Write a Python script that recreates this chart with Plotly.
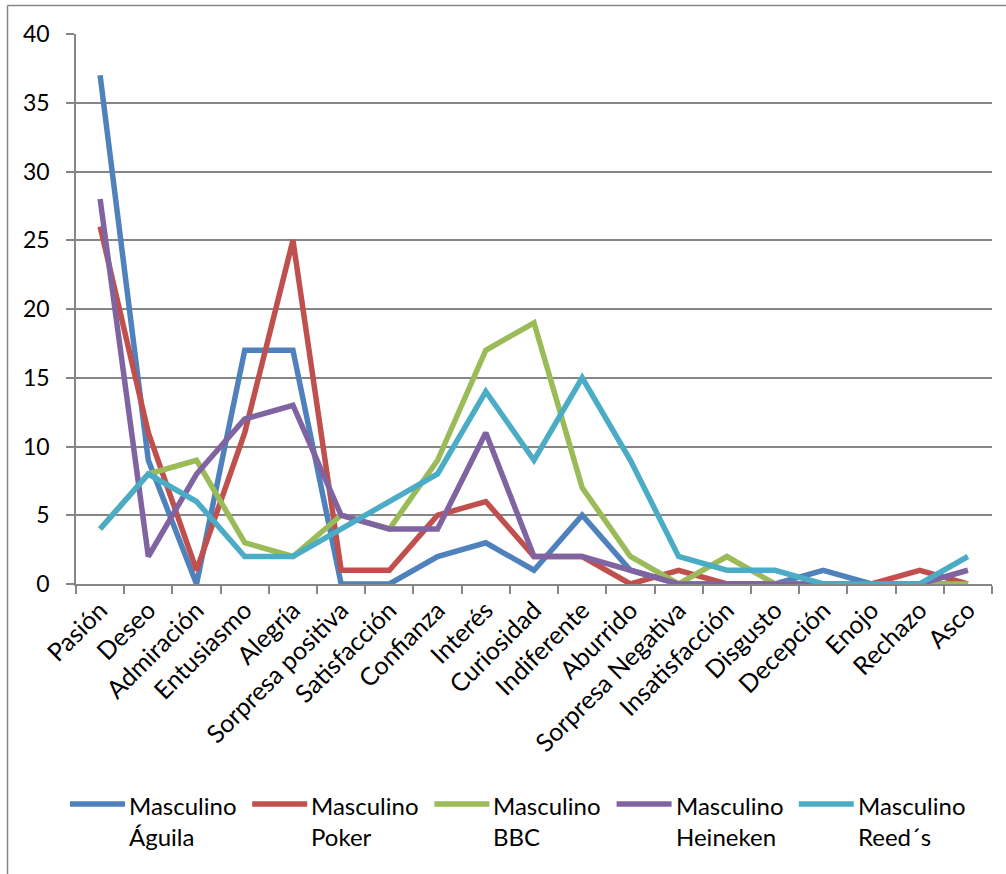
import plotly.graph_objects as go

categories = ["Pasión", "Deseo", "Admiración", "Entusiasmo", "Alegría",
              "Sorpresa positiva", "Satisfacción", "Confianza", "Interés",
              "Curiosidad", "Indiferente", "Aburrido", "Sorpresa Negativa",
              "Insatisfacción", "Disgusto", "Decepción", "Enojo", "Rechazo", "Asco"]

aguila   = [37, 9, 0, 17, 17, 0, 0, 2, 3, 1, 5, 1, 0, 0, 0, 1, 0, 0, 0]
poker    = [26, 11, 1, 11, 25, 1, 1, 5, 6, 2, 2, 0, 1, 0, 0, 0, 0, 1, 0]
bbc      = [4, 8, 9, 3, 2, 5, 4, 9, 17, 19, 7, 2, 0, 2, 0, 0, 0, 0, 0]
heineken = [28, 2, 8, 12, 13, 5, 4, 4, 11, 2, 2, 1, 0, 0, 0, 0, 0, 0, 1]
reeds    = [4, 8, 6, 2, 2, 4, 6, 8, 14, 9, 15, 9, 2, 1, 1, 0, 0, 0, 2]

series_names = ["Masculino<br>Águila", "Masculino<br>Poker", "Masculino<br>BBC",
                "Masculino<br>Heineken", "Masculino<br>Reed´s"]
series_values = [aguila, poker, bbc, heineken, reeds]
colors = ["#4F81BD", "#C0504D", "#9BBB59", "#8064A2", "#4BACC6"]

FONT = "Lato"
OFF = 0  # body margin removed via post_script
W, H = 1006, 874
# target plot area on the page: x 76..992, y 34..584
L = 76 - OFF
T = 34 - OFF
pw, ph = 916, 550
R = W - L - pw
B = H - T - ph

def px(x):
    return (x - OFF - L) / pw

def py(y):
    return (T + ph - (y - OFF)) / ph

fig = go.Figure()
for name, vals, col in zip(series_names, series_values, colors):
    fig.add_trace(go.Scatter(x=categories, y=vals, mode="lines", name=name,
                             line=dict(color=col, width=5.5), showlegend=False))

shapes = []
annotations = []
# chart frame (left and top edges visible in the reference)
shapes.append(dict(type="line", xref="paper", yref="paper",
                   x0=px(7.5), x1=px(7.5), y0=py(880), y1=py(5.5),
                   line=dict(color="#868686", width=1.5), layer="above"))
shapes.append(dict(type="line", xref="paper", yref="paper",
                   x0=px(7.5), x1=px(1012), y0=py(5.5), y1=py(5.5),
                   line=dict(color="#868686", width=1.5), layer="above"))

# custom legend
for i, (name, col) in enumerate(zip(series_names, colors)):
    x0 = 70 + 182.2 * i
    shapes.append(dict(type="line", xref="paper", yref="paper",
                       x0=px(x0), x1=px(x0 + 55), y0=py(804), y1=py(804),
                       line=dict(color=col, width=5.5)))
    annotations.append(dict(xref="paper", yref="paper", x=px(x0 + 57), y=py(821),
                            xanchor="left", yanchor="middle", align="left",
                            text=name, showarrow=False,
                            font=dict(family=FONT, size=24, color="#000000")))

fig.update_layout(
    width=W, height=H,
    margin=dict(l=L, r=R, t=T, b=B),
    paper_bgcolor="white", plot_bgcolor="white",
    font=dict(family=FONT, size=23, color="#000000"),
    shapes=shapes, annotations=annotations,
    xaxis=dict(type="category", tickangle=-45, tickson="boundaries",
               range=[-0.5, len(categories) - 0.5],
               ticks="outside", ticklen=8, tickcolor="#868686", tickwidth=1.5,
               showline=True, linecolor="#868686", linewidth=1.5,
               showgrid=False, zeroline=False,
               tickfont=dict(family=FONT, size=25, color="#000000")),
    yaxis=dict(range=[0, 40], dtick=5, ticks="outside", ticklen=8,
               tickcolor="#868686", tickwidth=1.5,
               showline=True, linecolor="#868686", linewidth=1.5,
               showgrid=True, gridcolor="#868686", gridwidth=1.5,
               zeroline=False, ticklabelstandoff=12,
               tickfont=dict(family=FONT, size=23, color="#000000")),
)

fig.write_html("out.html", config={"displayModeBar": False},
               post_script="document.body.style.margin='0';")
